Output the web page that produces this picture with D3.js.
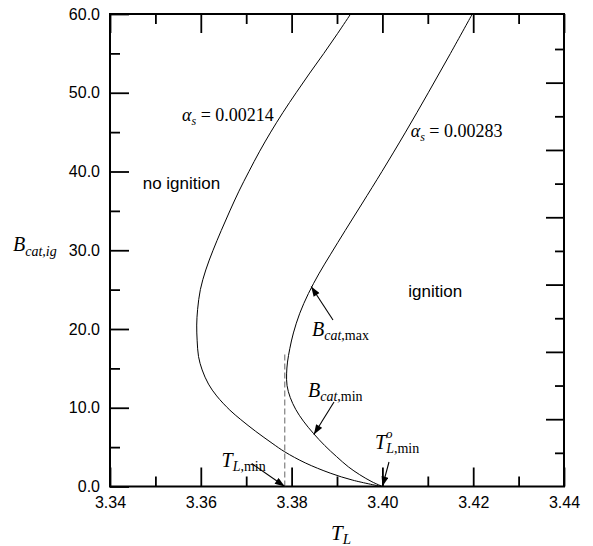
<!DOCTYPE html>
<html>
<head>
<meta charset="utf-8">
<script src="https://cdn.jsdelivr.net/npm/d3@7"></script>
<style>
  body { margin: 0; background: #fff; }
  svg { display: block; }
  .serif { font-family: "Liberation Serif", "Times New Roman", serif; }
  .sans { font-family: "Liberation Sans", Arial, sans-serif; }
  text { white-space: pre; }
</style>
</head>
<body>
<svg id="chart" width="593" height="546"></svg>
<script>
// Axis ticks: liquid temperature T_L and ignition parameter B_cat,ig
const tempTicks = [3.34, 3.36, 3.38, 3.40, 3.42, 3.44];
const tempMinorTicks = [3.35, 3.37, 3.39, 3.41, 3.43];
const bTicks = [0, 10, 20, 30, 40, 50, 60];
const bMinorTicks = [5, 15, 25, 35, 45, 55];
// right-hand frame carries its own (unlabelled) tick spacing
const rightTicks = [10, 20, 30, 40, 50, 60];
const rightMinorTicks = [5, 15, 25, 35, 45, 55, 65];

// Ignition boundary, alpha_s = 0.00214
const tempLow = [3.3998, 3.3935, 3.3885, 3.3830, 3.3785, 3.3757, 3.3721, 3.3688, 3.3664, 3.3635,
                 3.3617, 3.3603, 3.3595, 3.3592, 3.3591, 3.3593, 3.3599, 3.3611, 3.3627, 3.3645,
                 3.3664, 3.3684, 3.3706, 3.3729, 3.3754, 3.3781, 3.3810, 3.3840, 3.3871, 3.3901, 3.3930];
const bLow    = [0, 0.8, 1.7, 3.0, 4.4, 5.5, 7.0, 8.5, 9.7, 11.5,
                 13.0, 14.8, 16.5, 18.5, 20.5, 22.5, 25.0, 27.5, 30.0, 32.5,
                 35.0, 37.5, 40.0, 42.5, 45.0, 47.5, 50.0, 52.5, 55.0, 57.5, 60];

// Ignition boundary, alpha_s = 0.00283
const tempHigh = [3.4000, 3.3977, 3.3950, 3.3925, 3.3899, 3.3873, 3.3848, 3.3826, 3.3809, 3.3797,
                  3.3790, 3.3789, 3.3791, 3.3796, 3.3804, 3.3818, 3.3837, 3.3860, 3.3886, 3.3918,
                  3.3956, 3.3999, 3.4051, 3.4101, 3.4150, 3.4198];
const bHigh    = [0, 0.6, 1.5, 2.5, 3.8, 5.2, 6.75, 8.3, 9.8, 11.3,
                  12.8, 14.3, 15.8, 17.5, 19.5, 22.0, 24.5, 27.0, 29.5, 32.5,
                  36.0, 40.0, 45.0, 50.0, 55.0, 60];

// Minimum liquid temperatures
const tLMin = 3.3785;
const tLMinTop = 17;
const tLMinZero = 3.40;

const svg = d3.select("#chart");
const margin = { left: 110, right: 29, top: 14, bottom: 59.5 };
const W = 593, H = 546;
const iw = W - margin.left - margin.right;
const ih = H - margin.top - margin.bottom;

const x = d3.scaleLinear().domain([3.34, 3.44]).range([0, iw]);
const y = d3.scaleLinear().domain([0, 60]).range([ih, 0]);
const yRight = d3.scaleLinear().domain([0, 70.2]).range([ih, 0]);

const g = svg.append("g").attr("transform", `translate(${margin.left},${margin.top})`);

svg.append("defs").html(`
  <clipPath id="plotClip"><rect x="0" y="0" width="${iw}" height="${ih}"/></clipPath>
  <marker id="head" viewBox="0 0 10 7" refX="10" refY="3.5" markerWidth="11" markerHeight="7"
          markerUnits="userSpaceOnUse" orient="auto">
    <path d="M0,0 L10,3.5 L0,7 Z" fill="#000"/>
  </marker>`);

function styleAxis(sel) {
  sel.select(".domain").remove();
  sel.selectAll(".tick line").attr("stroke", "#000").attr("stroke-width", 1.8);
  sel.selectAll(".tick text").attr("class", "sans").attr("font-size", 16).attr("fill", "#000");
}

// bottom
g.append("g").attr("transform", `translate(0,${ih})`)
  .call(d3.axisBottom(x).tickValues(tempTicks).tickSize(-19).tickPadding(10).tickFormat(d3.format(".2f")))
  .call(styleAxis);
g.append("g").attr("transform", `translate(0,${ih})`)
  .call(d3.axisBottom(x).tickValues(tempMinorTicks).tickSize(-10).tickFormat(""))
  .call(styleAxis);
// top
g.append("g")
  .call(d3.axisTop(x).tickValues(tempTicks).tickSize(-19).tickFormat(""))
  .call(styleAxis);
g.append("g")
  .call(d3.axisTop(x).tickValues(tempMinorTicks).tickSize(-10).tickFormat(""))
  .call(styleAxis);
// left
g.append("g")
  .call(d3.axisLeft(y).tickValues(bTicks).tickSize(-19).tickPadding(10).tickFormat(d3.format(".1f")))
  .call(styleAxis);
g.append("g")
  .call(d3.axisLeft(y).tickValues(bMinorTicks).tickSize(-10).tickFormat(""))
  .call(styleAxis);
// right
g.append("g").attr("transform", `translate(${iw},0)`)
  .call(d3.axisRight(yRight).tickValues(rightTicks).tickSize(-18).tickFormat(""))
  .call(styleAxis);
g.append("g").attr("transform", `translate(${iw},0)`)
  .call(d3.axisRight(yRight).tickValues(rightMinorTicks).tickSize(-9).tickFormat(""))
  .call(styleAxis);

// frame
g.append("rect").attr("x", 0).attr("y", 0).attr("width", iw).attr("height", ih)
  .attr("fill", "none").attr("stroke", "#000").attr("stroke-width", 2);

// boundary curves
const line = d3.line().x(d => x(d[0])).y(d => y(d[1])).curve(d3.curveCatmullRom.alpha(0.5));
const plot = g.append("g").attr("clip-path", "url(#plotClip)");
[[tempLow, bLow], [tempHigh, bHigh]].forEach(([ts, bs]) => {
  plot.append("path")
    .datum(ts.map((t, i) => [t, bs[i]]))
    .attr("d", line)
    .attr("fill", "none").attr("stroke", "#000").attr("stroke-width", 1);
});

// T_L,min dashed guide
g.append("line")
  .attr("x1", x(tLMin)).attr("x2", x(tLMin))
  .attr("y1", y(0)).attr("y2", y(tLMinTop))
  .attr("stroke", "#555").attr("stroke-width", 0.9).attr("stroke-dasharray", "6,3");

// Region labels
g.append("text").attr("class", "sans").attr("font-size", 17)
  .attr("x", 142.7 - margin.left).attr("y", 189 - margin.top).text("no ignition");
g.append("text").attr("class", "sans").attr("font-size", 17)
  .attr("x", 408.3 - margin.left).attr("y", 296.7 - margin.top).text("ignition");

// alpha_s labels
function alphaLabel(px, py, value) {
  const t = g.append("text").attr("class", "serif").attr("font-size", 18)
    .attr("x", px - margin.left).attr("y", py - margin.top);
  t.append("tspan").attr("font-style", "italic").text("α");
  t.append("tspan").attr("font-style", "italic").attr("font-size", 12).attr("dy", 4).text("s");
  t.append("tspan").attr("dy", -4).text(" = " + value);
}
alphaLabel(182, 121, "0.00214");
alphaLabel(410.7, 137, "0.00283");

// Axis titles
const yl = svg.append("text").attr("class", "serif").attr("font-size", 20)
  .attr("x", 13).attr("y", 251).attr("font-style", "italic");
yl.append("tspan").text("B");
yl.append("tspan").attr("font-size", 14).attr("dy", 5).text("cat,ig");

const xl = svg.append("text").attr("class", "serif").attr("font-size", 21)
  .attr("x", 331).attr("y", 540).attr("font-style", "italic");
xl.append("tspan").text("T");
xl.append("tspan").attr("font-size", 15).attr("dy", 4).text("L");

// Annotation labels with subscripts
function subLabel(px, py, main, italicSub, plainSub) {
  const t = g.append("text").attr("class", "serif").attr("font-size", 20)
    .attr("x", px - margin.left).attr("y", py - margin.top);
  t.append("tspan").attr("font-style", "italic").text(main);
  t.append("tspan").attr("font-style", "italic").attr("font-size", 14).attr("dy", 4).text(italicSub);
  t.append("tspan").attr("font-size", 14).text(plainSub);
  return t;
}
subLabel(312, 336, "B", "cat", ",max");
subLabel(308, 397, "B", "cat", ",min");
subLabel(221.5, 467, "T", "L", ",min");
// T with superscript o above its subscript
subLabel(375, 449, "T", "L", ",min");
g.append("text").attr("class", "serif").attr("font-size", 13).attr("font-style", "italic")
  .attr("x", 386 - margin.left).attr("y", 438 - margin.top).text("o");

// Arrows
function arrow(x1, y1, x2, y2) {
  g.append("line")
    .attr("x1", x1 - margin.left).attr("y1", y1 - margin.top)
    .attr("x2", x2).attr("y2", y2)
    .attr("stroke", "#000").attr("stroke-width", 1.1)
    .attr("marker-end", "url(#head)");
}
arrow(333, 320, x(3.3843), y(25.4));
arrow(334, 402, x(3.3849), y(6.6));
arrow(251.7, 463.5, x(tLMin), y(0));
arrow(389, 462, x(tLMinZero), y(0));
</script>
</body>
</html>
